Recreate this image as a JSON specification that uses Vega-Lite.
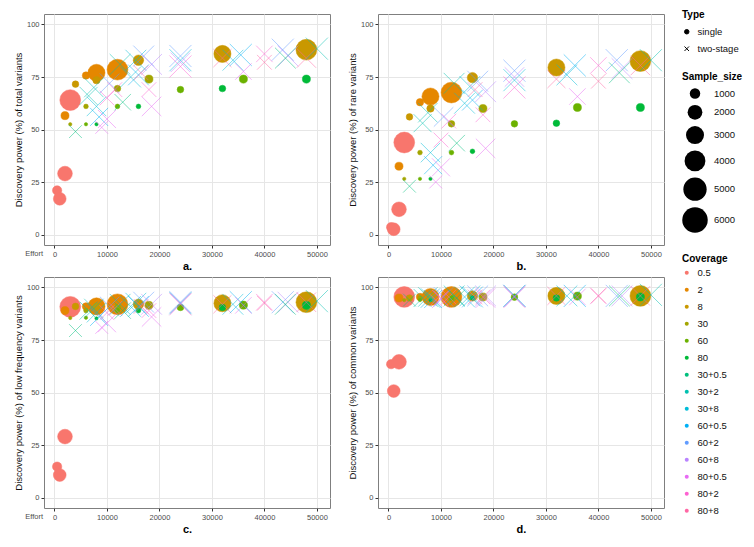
{
  "$schema": "https://vega.github.io/schema/vega-lite/v6.json",
  "padding": {"left": 12, "top": 10, "right": 2, "bottom": 2},
  "background": "white",
  "config": {
    "font": "Liberation Sans",
    "view": {"stroke": "#7f7f7f", "strokeWidth": 1},
    "axis": {"domain": false, "grid": true, "gridColor": "#e6e6e6", "gridWidth": 1, "tickColor": "#333333", "tickSize": 3, "labelColor": "#4d4d4d", "labelFontSize": 7.5, "labelPadding": 2, "titleFontSize": 9.5, "titleFontWeight": "normal", "titleColor": "#111111", "titlePadding": 3},
    "axisX": {"titleFontWeight": "bold", "titleFontSize": 11, "titlePadding": 3, "titleColor": "#000000"},
    "legend": {"labelFontSize": 9.5, "titleFontSize": 10, "titleFontWeight": "bold", "labelColor": "#111111", "titleColor": "#000000", "labelOffset": 6}
  },
  "data": {"values": [
    {"Effort":500,"Type":"single","Sample_size":800,"Coverage":"0.5","total":21,"rare":3.5,"low":14.7,"common":63.5},
    {"Effort":1000,"Type":"single","Sample_size":1500,"Coverage":"0.5","total":17,"rare":2.5,"low":10.7,"common":50.7},
    {"Effort":2000,"Type":"single","Sample_size":2000,"Coverage":"0.5","total":29,"rare":12,"low":29,"common":64.6},
    {"Effort":3000,"Type":"single","Sample_size":4000,"Coverage":"0.5","total":64,"rare":43.8,"low":90.8,"common":95.5},
    {"Effort":2000,"Type":"single","Sample_size":600,"Coverage":"2","total":56.6,"rare":32.5,"low":89,"common":95},
    {"Effort":6000,"Type":"single","Sample_size":500,"Coverage":"2","total":75.7,"rare":63,"low":91,"common":95.5},
    {"Effort":8000,"Type":"single","Sample_size":2700,"Coverage":"2","total":77,"rare":65.7,"low":91,"common":95.5},
    {"Effort":12000,"Type":"single","Sample_size":4000,"Coverage":"2","total":78.5,"rare":67.6,"low":92,"common":95.5},
    {"Effort":4000,"Type":"single","Sample_size":400,"Coverage":"8","total":71.6,"rare":56,"low":91,"common":95},
    {"Effort":8000,"Type":"single","Sample_size":500,"Coverage":"8","total":73.5,"rare":60,"low":91,"common":95.5},
    {"Effort":16000,"Type":"single","Sample_size":1000,"Coverage":"8","total":83,"rare":74.7,"low":92,"common":96},
    {"Effort":32000,"Type":"single","Sample_size":2700,"Coverage":"8","total":86,"rare":79.5,"low":92.5,"common":96},
    {"Effort":48000,"Type":"single","Sample_size":4000,"Coverage":"8","total":88,"rare":82.6,"low":93,"common":96},
    {"Effort":3000,"Type":"single","Sample_size":100,"Coverage":"30","total":52.5,"rare":26.5,"low":85.5,"common":94},
    {"Effort":6000,"Type":"single","Sample_size":200,"Coverage":"30","total":61,"rare":39,"low":89,"common":95},
    {"Effort":12000,"Type":"single","Sample_size":400,"Coverage":"30","total":69.5,"rare":52.7,"low":90.5,"common":95},
    {"Effort":18000,"Type":"single","Sample_size":600,"Coverage":"30","total":74,"rare":60,"low":91.5,"common":95.5},
    {"Effort":6000,"Type":"single","Sample_size":100,"Coverage":"60","total":52.5,"rare":26.5,"low":85.6,"common":94},
    {"Effort":12000,"Type":"single","Sample_size":200,"Coverage":"60","total":61,"rare":39,"low":89,"common":95},
    {"Effort":24000,"Type":"single","Sample_size":400,"Coverage":"60","total":69,"rare":52.7,"low":90.5,"common":95.4},
    {"Effort":36000,"Type":"single","Sample_size":600,"Coverage":"60","total":74,"rare":60.5,"low":91.6,"common":95.9},
    {"Effort":8000,"Type":"single","Sample_size":100,"Coverage":"80","total":52.5,"rare":26.5,"low":85.3,"common":94},
    {"Effort":16000,"Type":"single","Sample_size":200,"Coverage":"80","total":61,"rare":39.6,"low":89,"common":95},
    {"Effort":32000,"Type":"single","Sample_size":400,"Coverage":"80","total":69.5,"rare":53,"low":90.5,"common":95},
    {"Effort":48000,"Type":"single","Sample_size":600,"Coverage":"80","total":74,"rare":60.5,"low":91.5,"common":95.5},
    {"Effort":4000,"Type":"two-stage","Sample_size":1500,"Coverage":"30+0.5","total":49,"rare":23,"low":79.5,"common":94},
    {"Effort":6500,"Type":"two-stage","Sample_size":3000,"Coverage":"30+2","total":66,"rare":53,"low":89,"common":95},
    {"Effort":7500,"Type":"two-stage","Sample_size":3500,"Coverage":"30+2","total":70,"rare":58,"low":90,"common":95.5},
    {"Effort":8000,"Type":"two-stage","Sample_size":3500,"Coverage":"30+8","total":61,"rare":39,"low":88,"common":95},
    {"Effort":8500,"Type":"two-stage","Sample_size":3000,"Coverage":"60+0.5","total":56,"rare":33,"low":86,"common":94.5},
    {"Effort":9000,"Type":"two-stage","Sample_size":1500,"Coverage":"80+0.5","total":51,"rare":25,"low":81,"common":94},
    {"Effort":10000,"Type":"two-stage","Sample_size":3000,"Coverage":"80+0.5","total":55,"rare":32,"low":83,"common":94.5},
    {"Effort":10000,"Type":"two-stage","Sample_size":2000,"Coverage":"80+2","total":65,"rare":45,"low":88,"common":95},
    {"Effort":10500,"Type":"two-stage","Sample_size":3500,"Coverage":"60+2","total":72,"rare":56,"low":91,"common":95.5},
    {"Effort":11500,"Type":"two-stage","Sample_size":2000,"Coverage":"80+2","total":69,"rare":54,"low":90,"common":95.5},
    {"Effort":12500,"Type":"two-stage","Sample_size":4000,"Coverage":"30+2","total":81,"rare":72,"low":92,"common":96},
    {"Effort":13000,"Type":"two-stage","Sample_size":2500,"Coverage":"30+0.5","total":63,"rare":43.5,"low":89,"common":95},
    {"Effort":14500,"Type":"two-stage","Sample_size":4000,"Coverage":"30+8","total":75,"rare":62.5,"low":91,"common":95.5},
    {"Effort":15500,"Type":"two-stage","Sample_size":4000,"Coverage":"30+8","total":83,"rare":70.5,"low":92.5,"common":96},
    {"Effort":16000,"Type":"two-stage","Sample_size":4000,"Coverage":"60+0.5","total":76,"rare":64,"low":91,"common":95.5},
    {"Effort":17000,"Type":"two-stage","Sample_size":4000,"Coverage":"60+2","total":85,"rare":73,"low":93,"common":96},
    {"Effort":18000,"Type":"two-stage","Sample_size":2000,"Coverage":"80+2","total":69,"rare":57,"low":89,"common":95.5},
    {"Effort":18500,"Type":"two-stage","Sample_size":4000,"Coverage":"60+8","total":81,"rare":68,"low":92,"common":96},
    {"Effort":18500,"Type":"two-stage","Sample_size":3500,"Coverage":"80+0.5","total":61,"rare":41,"low":86,"common":95},
    {"Effort":16500,"Type":"two-stage","Sample_size":2000,"Coverage":"80+8","total":77,"rare":69,"low":91,"common":95.5},
    {"Effort":24000,"Type":"two-stage","Sample_size":4500,"Coverage":"60+2","total":85,"rare":78,"low":93,"common":96},
    {"Effort":24000,"Type":"two-stage","Sample_size":4500,"Coverage":"30+8","total":83,"rare":73.5,"low":92.5,"common":96},
    {"Effort":24000,"Type":"two-stage","Sample_size":4500,"Coverage":"80+2","total":80,"rare":70,"low":92,"common":95.5},
    {"Effort":24000,"Type":"two-stage","Sample_size":3500,"Coverage":"60+8","total":82,"rare":75,"low":92.5,"common":95.5},
    {"Effort":32000,"Type":"two-stage","Sample_size":3000,"Coverage":"80+8","total":84,"rare":74,"low":92,"common":96},
    {"Effort":34000,"Type":"two-stage","Sample_size":4000,"Coverage":"30+8","total":83,"rare":76,"low":92,"common":96},
    {"Effort":35500,"Type":"two-stage","Sample_size":4500,"Coverage":"60+0.5","total":85.5,"rare":80.5,"low":93,"common":96},
    {"Effort":36000,"Type":"two-stage","Sample_size":2500,"Coverage":"80+0.5","total":77.6,"rare":65.7,"low":91.5,"common":95.5},
    {"Effort":40000,"Type":"two-stage","Sample_size":2500,"Coverage":"80+2","total":86,"rare":80.5,"low":93,"common":96},
    {"Effort":40000,"Type":"two-stage","Sample_size":2000,"Coverage":"80+8","total":82,"rare":73,"low":92.5,"common":96},
    {"Effort":43500,"Type":"two-stage","Sample_size":4500,"Coverage":"60+2","total":88,"rare":83,"low":93,"common":96},
    {"Effort":44500,"Type":"two-stage","Sample_size":4000,"Coverage":"60+8","total":85,"rare":79,"low":93,"common":96},
    {"Effort":48000,"Type":"two-stage","Sample_size":3500,"Coverage":"80+8","total":84,"rare":80.5,"low":93,"common":96},
    {"Effort":50000,"Type":"two-stage","Sample_size":4500,"Coverage":"30+2","total":88.5,"rare":83,"low":93.5,"common":96.5},
    {"Effort":44000,"Type":"two-stage","Sample_size":4000,"Coverage":"30+0.5","total":84,"rare":77,"low":92,"common":96}
  ]},
  "columns": 2,
  "spacing": {"row": 4, "column": 15},
  "resolve": {"scale": {"fill": "shared", "stroke": "shared", "size": "shared", "shape": "shared"}},
  "concat": [
    {
      "width": 286, "height": 231,
      "layer": [
        {
          "mark": {"type": "point", "filled": true, "strokeWidth": 1, "strokeOpacity": 0.5, "fillOpacity": 1, "opacity": 1},
          "encoding": {
            "x": {"field": "Effort", "type": "quantitative", "scale": {"domain": [-2000, 52500], "nice": false, "zero": false}, "axis": {"values": [0, 10000, 20000, 30000, 40000, 50000], "format": "d", "title": "a."}},
            "y": {"field": "total", "type": "quantitative", "scale": {"domain": [-5, 105], "nice": false}, "axis": {"values": [0, 25, 50, 75, 100], "title": "Discovery power (%) of total variants"}},
            "fill": {"field": "Coverage", "type": "nominal", "scale": {"domain": ["0.5","2","8","30","60","80","30+0.5","30+2","30+8","60+0.5","60+2","60+8","80+0.5","80+2","80+8"], "range": ["#F8766D","#E58700","#C99800","#A3A500","#6BB100","#00BA38","#00BF7D","#00C0AF","#00BCD8","#00B0F6","#619CFF","#B983FF","#E76BF3","#FD61D1","#FF67A4"]}, "legend": {"title": "Coverage", "orient": "none", "legendX": 638, "legendY": 240, "symbolType": "circle", "symbolSize": 16, "symbolStrokeWidth": 0, "rowPadding": 6, "titlePadding": 4}},
            "stroke": {"field": "Coverage", "type": "nominal", "scale": {"domain": ["0.5","2","8","30","60","80","30+0.5","30+2","30+8","60+0.5","60+2","60+8","80+0.5","80+2","80+8"], "range": ["#F8766D","#E58700","#C99800","#A3A500","#6BB100","#00BA38","#00BF7D","#00C0AF","#00BCD8","#00B0F6","#619CFF","#B983FF","#E76BF3","#FD61D1","#FF67A4"]}, "legend": null},
            "size": {"field": "Sample_size", "type": "quantitative", "scale": {"domain": [50, 6000], "range": [6, 650]}, "legend": {"title": "Sample_size", "orient": "none", "legendX": 638, "legendY": 58, "values": [1000, 2000, 3000, 4000, 5000, 6000], "format": "d", "symbolType": "circle", "symbolFillColor": "black", "symbolStrokeWidth": 0, "rowPadding": 5.8, "titlePadding": 6}},
            "shape": {"field": "Type", "type": "nominal", "scale": {"domain": ["single", "two-stage"], "range": ["circle", "M-1,-1L1,1M1,-1L-1,1"]}, "legend": {"title": "Type", "orient": "none", "legendX": 638, "legendY": -4, "symbolSize": 20, "symbolFillColor": "black", "symbolStrokeColor": "black", "symbolStrokeWidth": 1, "rowPadding": 6, "titlePadding": 7}}
          }
        },
        {
          "data": {"values": [{"label": "Effort"}]},
          "mark": {"type": "text", "align": "right", "baseline": "top", "dx": -1, "dy": 5, "fontSize": 7.5, "color": "#4d4d4d"},
          "encoding": {"x": {"datum": -2000}, "y": {"datum": -5}, "text": {"field": "label"}}
        }
      ]
    },
    {
      "width": 286, "height": 231,
      "mark": {"type": "point", "filled": true, "strokeWidth": 1, "strokeOpacity": 0.5, "fillOpacity": 1, "opacity": 1},
      "encoding": {
        "x": {"field": "Effort", "type": "quantitative", "scale": {"domain": [-2000, 52500], "nice": false, "zero": false}, "axis": {"values": [0, 10000, 20000, 30000, 40000, 50000], "format": "d", "title": "b."}},
        "y": {"field": "rare", "type": "quantitative", "scale": {"domain": [-5, 105], "nice": false}, "axis": {"values": [0, 25, 50, 75, 100], "title": "Discovery power (%) of rare variants"}},
        "fill": {"field": "Coverage", "type": "nominal", "scale": {"domain": ["0.5","2","8","30","60","80","30+0.5","30+2","30+8","60+0.5","60+2","60+8","80+0.5","80+2","80+8"], "range": ["#F8766D","#E58700","#C99800","#A3A500","#6BB100","#00BA38","#00BF7D","#00C0AF","#00BCD8","#00B0F6","#619CFF","#B983FF","#E76BF3","#FD61D1","#FF67A4"]}, "legend": {"title": "Coverage", "orient": "none", "legendX": 638, "legendY": 240, "symbolType": "circle", "symbolSize": 16, "symbolStrokeWidth": 0, "rowPadding": 6, "titlePadding": 4}},
        "stroke": {"field": "Coverage", "type": "nominal", "scale": {"domain": ["0.5","2","8","30","60","80","30+0.5","30+2","30+8","60+0.5","60+2","60+8","80+0.5","80+2","80+8"], "range": ["#F8766D","#E58700","#C99800","#A3A500","#6BB100","#00BA38","#00BF7D","#00C0AF","#00BCD8","#00B0F6","#619CFF","#B983FF","#E76BF3","#FD61D1","#FF67A4"]}, "legend": null},
        "size": {"field": "Sample_size", "type": "quantitative", "scale": {"domain": [50, 6000], "range": [6, 650]}, "legend": {"title": "Sample_size", "orient": "none", "legendX": 638, "legendY": 58, "values": [1000, 2000, 3000, 4000, 5000, 6000], "format": "d", "symbolType": "circle", "symbolFillColor": "black", "symbolStrokeWidth": 0, "rowPadding": 5.8, "titlePadding": 6}},
        "shape": {"field": "Type", "type": "nominal", "scale": {"domain": ["single", "two-stage"], "range": ["circle", "M-1,-1L1,1M1,-1L-1,1"]}, "legend": {"title": "Type", "orient": "none", "legendX": 638, "legendY": -4, "symbolSize": 20, "symbolFillColor": "black", "symbolStrokeColor": "black", "symbolStrokeWidth": 1, "rowPadding": 6, "titlePadding": 7}}
      }
    },
    {
      "width": 286, "height": 231,
      "layer": [
        {
          "mark": {"type": "point", "filled": true, "strokeWidth": 1, "strokeOpacity": 0.5, "fillOpacity": 1, "opacity": 1},
          "encoding": {
            "x": {"field": "Effort", "type": "quantitative", "scale": {"domain": [-2000, 52500], "nice": false, "zero": false}, "axis": {"values": [0, 10000, 20000, 30000, 40000, 50000], "format": "d", "title": "c."}},
            "y": {"field": "low", "type": "quantitative", "scale": {"domain": [-5, 105], "nice": false}, "axis": {"values": [0, 25, 50, 75, 100], "title": "Discovery power (%) of low frequency variants"}},
            "fill": {"field": "Coverage", "type": "nominal", "scale": {"domain": ["0.5","2","8","30","60","80","30+0.5","30+2","30+8","60+0.5","60+2","60+8","80+0.5","80+2","80+8"], "range": ["#F8766D","#E58700","#C99800","#A3A500","#6BB100","#00BA38","#00BF7D","#00C0AF","#00BCD8","#00B0F6","#619CFF","#B983FF","#E76BF3","#FD61D1","#FF67A4"]}, "legend": {"title": "Coverage", "orient": "none", "legendX": 638, "legendY": 240, "symbolType": "circle", "symbolSize": 16, "symbolStrokeWidth": 0, "rowPadding": 6, "titlePadding": 4}},
            "stroke": {"field": "Coverage", "type": "nominal", "scale": {"domain": ["0.5","2","8","30","60","80","30+0.5","30+2","30+8","60+0.5","60+2","60+8","80+0.5","80+2","80+8"], "range": ["#F8766D","#E58700","#C99800","#A3A500","#6BB100","#00BA38","#00BF7D","#00C0AF","#00BCD8","#00B0F6","#619CFF","#B983FF","#E76BF3","#FD61D1","#FF67A4"]}, "legend": null},
            "size": {"field": "Sample_size", "type": "quantitative", "scale": {"domain": [50, 6000], "range": [6, 650]}, "legend": {"title": "Sample_size", "orient": "none", "legendX": 638, "legendY": 58, "values": [1000, 2000, 3000, 4000, 5000, 6000], "format": "d", "symbolType": "circle", "symbolFillColor": "black", "symbolStrokeWidth": 0, "rowPadding": 5.8, "titlePadding": 6}},
            "shape": {"field": "Type", "type": "nominal", "scale": {"domain": ["single", "two-stage"], "range": ["circle", "M-1,-1L1,1M1,-1L-1,1"]}, "legend": {"title": "Type", "orient": "none", "legendX": 638, "legendY": -4, "symbolSize": 20, "symbolFillColor": "black", "symbolStrokeColor": "black", "symbolStrokeWidth": 1, "rowPadding": 6, "titlePadding": 7}}
          }
        },
        {
          "data": {"values": [{"label": "Effort"}]},
          "mark": {"type": "text", "align": "right", "baseline": "top", "dx": -1, "dy": 5, "fontSize": 7.5, "color": "#4d4d4d"},
          "encoding": {"x": {"datum": -2000}, "y": {"datum": -5}, "text": {"field": "label"}}
        }
      ]
    },
    {
      "width": 286, "height": 231,
      "mark": {"type": "point", "filled": true, "strokeWidth": 1, "strokeOpacity": 0.5, "fillOpacity": 1, "opacity": 1},
      "encoding": {
        "x": {"field": "Effort", "type": "quantitative", "scale": {"domain": [-2000, 52500], "nice": false, "zero": false}, "axis": {"values": [0, 10000, 20000, 30000, 40000, 50000], "format": "d", "title": "d."}},
        "y": {"field": "common", "type": "quantitative", "scale": {"domain": [-5, 105], "nice": false}, "axis": {"values": [0, 25, 50, 75, 100], "title": "Discovery power (%) of common variants"}},
        "fill": {"field": "Coverage", "type": "nominal", "scale": {"domain": ["0.5","2","8","30","60","80","30+0.5","30+2","30+8","60+0.5","60+2","60+8","80+0.5","80+2","80+8"], "range": ["#F8766D","#E58700","#C99800","#A3A500","#6BB100","#00BA38","#00BF7D","#00C0AF","#00BCD8","#00B0F6","#619CFF","#B983FF","#E76BF3","#FD61D1","#FF67A4"]}, "legend": {"title": "Coverage", "orient": "none", "legendX": 638, "legendY": 240, "symbolType": "circle", "symbolSize": 16, "symbolStrokeWidth": 0, "rowPadding": 6, "titlePadding": 4}},
        "stroke": {"field": "Coverage", "type": "nominal", "scale": {"domain": ["0.5","2","8","30","60","80","30+0.5","30+2","30+8","60+0.5","60+2","60+8","80+0.5","80+2","80+8"], "range": ["#F8766D","#E58700","#C99800","#A3A500","#6BB100","#00BA38","#00BF7D","#00C0AF","#00BCD8","#00B0F6","#619CFF","#B983FF","#E76BF3","#FD61D1","#FF67A4"]}, "legend": null},
        "size": {"field": "Sample_size", "type": "quantitative", "scale": {"domain": [50, 6000], "range": [6, 650]}, "legend": {"title": "Sample_size", "orient": "none", "legendX": 638, "legendY": 58, "values": [1000, 2000, 3000, 4000, 5000, 6000], "format": "d", "symbolType": "circle", "symbolFillColor": "black", "symbolStrokeWidth": 0, "rowPadding": 5.8, "titlePadding": 6}},
        "shape": {"field": "Type", "type": "nominal", "scale": {"domain": ["single", "two-stage"], "range": ["circle", "M-1,-1L1,1M1,-1L-1,1"]}, "legend": {"title": "Type", "orient": "none", "legendX": 638, "legendY": -4, "symbolSize": 20, "symbolFillColor": "black", "symbolStrokeColor": "black", "symbolStrokeWidth": 1, "rowPadding": 6, "titlePadding": 7}}
      }
    }
  ]
}
